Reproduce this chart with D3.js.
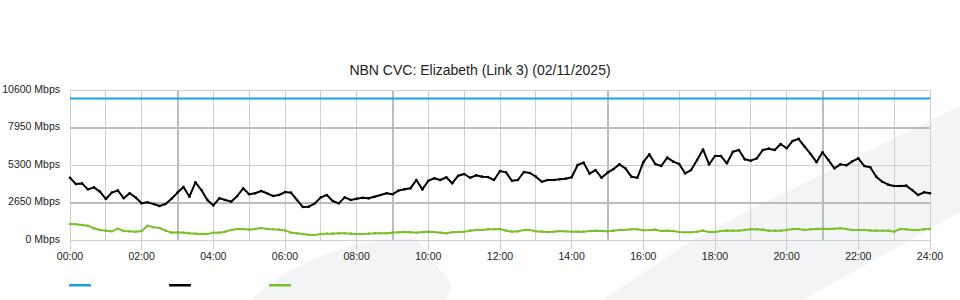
<!DOCTYPE html>
<html>
<head>
<meta charset="utf-8">
<script src="https://cdn.jsdelivr.net/npm/d3@7"></script>
<style>
  html, body { margin: 0; padding: 0; background: #fff; }
  #chart svg { display: block; font-family: "Liberation Sans", Arial, sans-serif; }
</style>
</head>
<body>
<div id="chart"></div>
<script>
// NBN CVC link traffic for one day, 10 minute samples (00:00 .. 24:00)
const title = 'NBN CVC: Elizabeth (Link 3) (02/11/2025)';
const yTicks = [0, 2650, 5300, 7950, 10600];
const xTickHours = [0, 2, 4, 6, 8, 10, 12, 14, 16, 18, 20, 22, 24];
const stepMinutes = 10;

// capacity of the link (flat)
const capacity = [10000, 10000];

// traffic in (black), Mbps
const trafficIn = [
  4400, 3950, 4000, 3580, 3720, 3420,
  2900, 3350, 3500, 2950, 3300, 3000,
  2600, 2660, 2540, 2400, 2540, 2920,
  3350, 3750, 3060, 4080, 3530, 2830,
  2440, 2945, 2830, 2710, 3110, 3650,
  3230, 3300, 3460, 3300, 3110, 3180,
  3390, 3345, 2830, 2330, 2355, 2590,
  3010, 3180, 2755, 2590, 3010, 2830,
  2920, 2990, 2945, 3060, 3180, 3300,
  3230, 3490, 3580, 3650, 4240, 3580,
  4190, 4360, 4240, 4430, 4005, 4545,
  4665, 4400, 4570, 4475, 4450, 4240,
  4870, 4780, 4190, 4240, 4805, 4735,
  4475, 4120, 4240, 4240, 4285, 4335,
  4430, 5300, 5465, 4690, 4945, 4400,
  4760, 5015, 5345, 5065, 4475, 4400,
  5500, 6050, 5370, 5230, 5820, 5535,
  5370, 4710, 4945, 5650, 6400, 5345,
  5935, 5935, 5420, 6240, 6360, 5700,
  5605, 5770, 6360, 6455, 6360, 6785,
  6480, 7000, 7150, 6595, 6080, 5500,
  6200, 5650, 5065, 5345, 5275, 5560,
  5770, 5230, 5135, 4475, 4120, 3910,
  3815, 3815, 3840, 3530, 3180, 3370,
  3300
];

// traffic out (green), Mbps
const trafficOut = [
  1130, 1110, 1060, 1010, 825, 710,
  660, 610, 800, 640, 610, 590,
  640, 1000, 895, 850, 660, 520,
  540, 520, 470, 450, 425, 425,
  520, 520, 590, 705, 780, 780,
  730, 780, 850, 780, 755, 730,
  680, 520, 470, 420, 375, 350,
  420, 450, 450, 470, 470, 450,
  420, 425, 450, 470, 470, 470,
  520, 545, 565, 545, 520, 565,
  590, 565, 520, 470, 545, 565,
  590, 660, 705, 705, 755, 755,
  780, 660, 590, 610, 705, 705,
  610, 590, 565, 590, 640, 610,
  590, 590, 590, 640, 660, 640,
  610, 660, 705, 705, 755, 755,
  690, 705, 730, 640, 660, 640,
  565, 545, 545, 590, 660, 565,
  565, 640, 660, 660, 660, 705,
  755, 755, 730, 660, 660, 660,
  705, 780, 780, 705, 755, 780,
  800, 780, 800, 825, 780, 705,
  705, 705, 680, 660, 660, 660,
  590, 780, 755, 705, 705, 755,
  780
];

const colors = { capacity: '#1da1dc', in: '#000000', out: '#7cc02c' };

(function(){
  const W = 960, H = 300;
  const plot = { left: 70, right: 930, top: 90, bottom: 240 };

  const svg = d3.select('#chart').append('svg').attr('width', W).attr('height', H);

  // faint background watermark shapes
  const wm = svg.append('g').attr('fill', '#f3f4f6');
  wm.append('path').attr('d', 'M250,300 C285,268 340,240 415,237 L452,285 L447,300 Z');
  wm.append('path').attr('d', 'M602,300 L693,240 C730,220 760,205 784,193 L911,130 L960,106 L960,212 L803,300 Z');

  const x = d3.scaleLinear().domain([0, 24]).range([plot.left, plot.right]);
  const y = d3.scaleLinear().domain([0, 10600]).range([plot.bottom, plot.top]);

  // grid: hourly verticals, every 6h from 03:00 drawn heavier
  const grid = svg.append('g');
  grid.selectAll('line.v').data(d3.range(0, 25)).enter().append('line')
    .attr('x1', d => x(d)).attr('x2', d => x(d))
    .attr('y1', plot.top).attr('y2', plot.bottom)
    .attr('stroke', d => (d % 6 === 3) ? '#bcbcbc' : '#cfcfcf')
    .attr('stroke-width', d => (d % 6 === 3) ? 2 : 1)
    .attr('shape-rendering', 'crispEdges');
  grid.selectAll('line.h').data(yTicks).enter().append('line')
    .attr('x1', plot.left).attr('x2', plot.right)
    .attr('y1', d => y(d)).attr('y2', d => y(d))
    .attr('stroke', (d, i) => (i % 2 === 1) ? '#bcbcbc' : '#cfcfcf')
    .attr('stroke-width', (d, i) => (i % 2 === 1) ? 2 : 1)
    .attr('shape-rendering', 'crispEdges');

  // y labels
  svg.append('g').selectAll('text').data(yTicks).enter().append('text')
    .attr('x', 60).attr('y', d => y(d) - 1)
    .attr('dy', '0.35em')
    .attr('text-anchor', 'end')
    .style('font-size', '10.5px').attr('fill', '#222')
    .text(d => d + ' Mbps');

  // x axis ticks + labels
  const xg = svg.append('g');
  xg.selectAll('line').data(xTickHours).enter().append('line')
    .attr('x1', d => x(d)).attr('x2', d => x(d))
    .attr('y1', plot.bottom).attr('y2', plot.bottom + 10)
    .attr('stroke', '#cfcfcf').attr('shape-rendering', 'crispEdges');
  xg.selectAll('text').data(xTickHours).enter().append('text')
    .attr('x', d => x(d)).attr('y', 260)
    .attr('text-anchor', 'middle')
    .style('font-size', '10.5px').attr('fill', '#222')
    .text(d => String(d).padStart(2, '0') + ':00');

  // title
  svg.append('text').attr('x', 480).attr('y', 75)
    .attr('text-anchor', 'middle')
    .style('font-size', '14px').attr('fill', '#222')
    .text(title);

  // series
  const hourOf = i => i * stepMinutes / 60;
  const line = d3.line().x(d => x(d[0])).y(d => y(d[1]));

  const series = [
    { key: 'capacity', pts: capacity.map((v, i) => [i * 24, v]), color: colors.capacity, markers: false },
    { key: 'out', pts: trafficOut.map((v, i) => [hourOf(i), v]), color: colors.out, markers: true },
    { key: 'in', pts: trafficIn.map((v, i) => [hourOf(i), v]), color: colors.in, markers: true }
  ];

  series.forEach(s => {
    svg.append('path')
      .attr('d', line(s.pts))
      .attr('fill', 'none')
      .attr('stroke', s.color)
      .attr('stroke-width', 2)
      .attr('stroke-linejoin', 'round');
    if (s.markers) {
      svg.append('g').selectAll('circle').data(s.pts).enter().append('circle')
        .attr('cx', d => x(d[0])).attr('cy', d => y(d[1]))
        .attr('r', 1.3).attr('fill', s.color);
    }
  });

  // legend swatches (no labels)
  const legend = [colors.capacity, colors.in, colors.out];
  svg.append('g').selectAll('rect').data(legend).enter().append('rect')
    .attr('x', (d, i) => 69 + i * 100).attr('y', 284)
    .attr('width', 22).attr('height', 2.5)
    .attr('fill', d => d);
})();
</script>
</body>
</html>
